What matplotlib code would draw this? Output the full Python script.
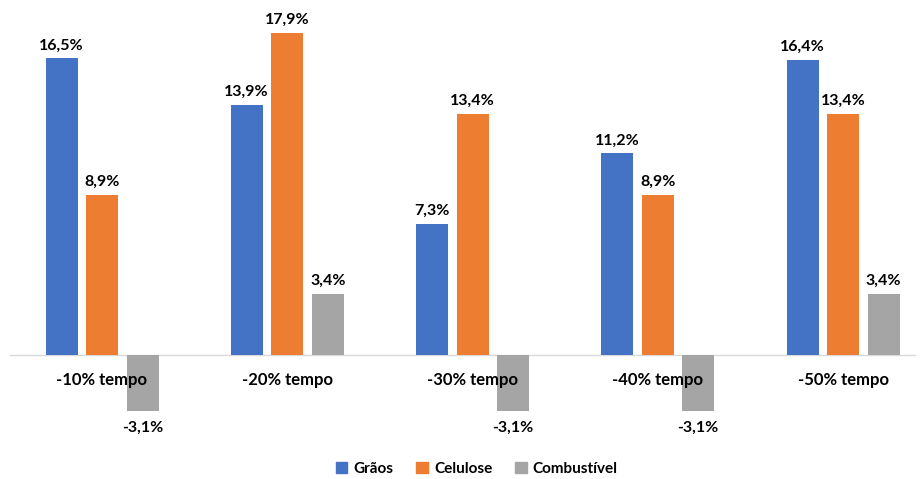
import numpy as np
import matplotlib.pyplot as plt
from matplotlib.patches import Patch

plt.rcParams['font.family'] = ['Lato', 'DejaVu Sans']

categorias = ['-10% tempo', '-20% tempo', '-30% tempo', '-40% tempo', '-50% tempo']
series = ['Grãos', 'Celulose', 'Combustível']
graos = [16.5, 13.9, 7.3, 11.2, 16.4]
celulose = [8.9, 17.9, 13.4, 8.9, 13.4]
combustivel = [-3.1, 3.4, -3.1, -3.1, 3.4]
cores = ['#4472C4', '#ED7D31', '#A5A5A5']

W, H = 924, 479
fig = plt.figure(figsize=(W / 100, H / 100), dpi=100)
ax = fig.add_axes([0, 0, 1, 1])

px = 185.25  # pixels per group
x = np.arange(len(categorias))
largura = 32 / px
passo = 40.5 / px

for k, (nome, vals, cor) in enumerate(zip(series, [graos, celulose, combustivel], cores)):
    pos = x + (k - 1) * passo
    ax.bar(pos, vals, width=largura, color=cor, zorder=2)
    for xi, v in zip(pos, vals):
        rot = f'{v:.1f}'.replace('.', ',') + '%'
        if v >= 0:
            ax.annotate(rot, (xi, v), xytext=(0, 4), textcoords='offset points',
                        ha='center', va='bottom', fontsize=11.5, fontweight='bold', color='#000000')
        else:
            ax.annotate(rot, (xi, v), xytext=(0, -7), textcoords='offset points',
                        ha='center', va='top', fontsize=11.5, fontweight='bold', color='#000000')

ax.axhline(0, xmin=10 / W, xmax=915 / W, color='#D9D9D9', lw=1, zorder=1)

for xi, c in zip(x, categorias):
    ax.text(xi, -1.39, c, ha='center', va='center', fontsize=12, fontweight='bold', zorder=3)

ax.set_xlim(-102 / px, (W - 102) / px)
ax.set_ylim(-(H - 355) / 18, 355 / 18)
ax.axis('off')

handles = [Patch(color=c, label=s) for s, c in zip(series, cores)]
fig.legend(handles=handles, loc='center', bbox_to_anchor=(0.516, 0.021), ncol=3,
           frameon=False, handlelength=0.75, handleheight=0.75, handletextpad=0.4,
           columnspacing=1.5, prop={'weight': 'bold', 'size': 11})

fig.savefig('out.png', dpi=100)
